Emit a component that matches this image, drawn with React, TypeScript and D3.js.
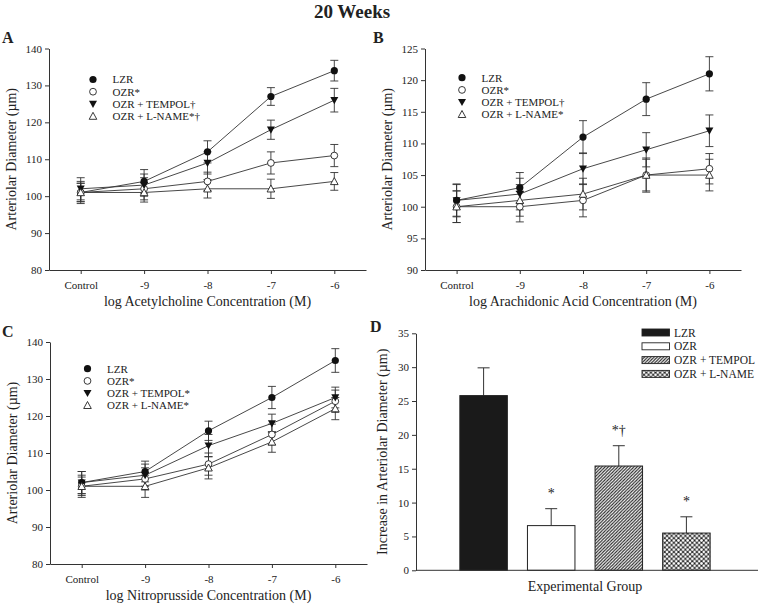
import { useEffect, useRef } from 'react'
import * as d3 from 'd3'

const categories = ['Control', '-9', '-8', '-7', '-6']

// panel A - acetylcholine
const aLabels = ['LZR', 'OZR*', 'OZR + TEMPOL†', 'OZR + L-NAME*†']
const aLzr = [101, 104, 112, 127, 134]
const aLzrErr = [3, 3.2, 3, 2.4, 2.8]
const aOzr = [101, 102, 104, 109, 111]
const aOzrErr = [2.5, 3, 2.5, 3, 3]
const aTempol = [102, 103, 109, 118, 126]
const aTempolErr = [3, 3, 3, 2.6, 3.2]
const aLname = [101, 101, 102, 102, 104]
const aLnameErr = [2.5, 2.6, 2.5, 2.6, 2.4]

// panel B - arachidonic acid
const bLabels = ['LZR', 'OZR*', 'OZR + TEMPOL†', 'OZR + L-NAME*']
const bLzr = [101, 103, 111, 117, 121]
const bLzrErr = [2.6, 2.4, 2.6, 2.6, 2.7]
const bOzr = [100, 100, 101, 105, 106]
const bOzrErr = [2.5, 2.4, 2.6, 2.7, 2.4]
const bTempol = [101, 102, 106, 109, 112]
const bTempolErr = [2.5, 2.5, 2.5, 2.7, 2.5]
const bLname = [100, 101, 102, 105, 105]
const bLnameErr = [2.5, 2.5, 2.5, 2.5, 2.5]

// panel C - nitroprusside
const cLabels = ['LZR', 'OZR*', 'OZR + TEMPOL*', 'OZR + L-NAME*']
const cLzr = [102, 105, 116, 125, 135]
const cLzrErr = [3, 2.8, 2.6, 3, 3.2]
const cOzr = [101, 103, 107, 115, 124]
const cOzrErr = [3, 3, 3, 2.8, 3]
const cTempol = [102, 104, 112, 118, 125]
const cTempolErr = [3, 3, 3, 2.5, 2.8]
const cLname = [101, 101, 106, 113, 122]
const cLnameErr = [2.5, 3, 3, 2.8, 3]

// panel D - bars
const dGroups = ['LZR', 'OZR', 'OZR + TEMPOL', 'OZR + L-NAME']
const dValues = [25.8, 6.6, 15.4, 5.5]
const dErrors = [4.1, 2.5, 3.0, 2.4]
const dMarks = ['', '*', '*†', '*']

const font = '"Liberation Serif", "Times New Roman", serif'
const ink = '#222'
const markerKinds = ['dot', 'circle', 'down', 'up']

type Panel = {
  letter: string
  left: number; right: number; top: number; bottom: number
  yDomain: [number, number]
  yTicks: number[]
  xTitle: string
  labels: string[]
  series: number[][]
  errors: number[][]
  legendX: number; legendY: number
}

const panels: Panel[] = [
  {
    letter: 'A', left: 49, right: 366, top: 48.5, bottom: 270, yDomain: [80, 140],
    yTicks: d3.range(80, 141, 10), xTitle: 'log Acetylcholine Concentration (M)',
    labels: aLabels, series: [aLzr, aOzr, aTempol, aLname],
    errors: [aLzrErr, aOzrErr, aTempolErr, aLnameErr], legendX: 93, legendY: 79.5
  },
  {
    letter: 'B', left: 425, right: 741, top: 48.5, bottom: 270, yDomain: [90, 125],
    yTicks: d3.range(90, 126, 5), xTitle: 'log Arachidonic Acid Concentration (M)',
    labels: bLabels, series: [bLzr, bOzr, bTempol, bLname],
    errors: [bLzrErr, bOzrErr, bTempolErr, bLnameErr], legendX: 462, legendY: 77.7
  },
  {
    letter: 'C', left: 50, right: 367, top: 342, bottom: 564, yDomain: [80, 140],
    yTicks: d3.range(80, 141, 10), xTitle: 'log Nitroprusside Concentration (M)',
    labels: cLabels, series: [cLzr, cOzr, cTempol, cLname],
    errors: [cLzrErr, cOzrErr, cTempolErr, cLnameErr], legendX: 87.5, legendY: 368.7
  }
]

type G = d3.Selection<SVGGElement, unknown, null, undefined>

function drawMarker(g: G, kind: string, x: number, y: number) {
  if (kind === 'dot') {
    g.append('circle').attr('cx', x).attr('cy', y).attr('r', 3.6).attr('fill', '#111')
  } else if (kind === 'circle') {
    g.append('circle').attr('cx', x).attr('cy', y).attr('r', 3.4).attr('fill', '#fff').attr('stroke', ink).attr('stroke-width', 0.9)
  } else if (kind === 'down') {
    g.append('path').attr('d', `M${x - 4},${y - 3.2}L${x + 4},${y - 3.2}L${x},${y + 4}Z`).attr('fill', '#111')
  } else {
    g.append('path').attr('d', `M${x - 3.8},${y + 3.2}L${x + 3.8},${y + 3.2}L${x},${y - 3.8}Z`)
      .attr('fill', '#fff').attr('stroke', ink).attr('stroke-width', 0.9)
  }
}

// serif text helper
function label(g: G, text: string, size: number) {
  return g.append('text').style('font-family', font).style('font-size', `${size}px`).attr('fill', ink).text(text)
}

function styleAxis(a: G) {
  a.attr('font-family', null).attr('font-size', null)
  a.selectAll('path, line').attr('stroke', '#333')
  a.selectAll('text').style('font-family', font).style('font-size', '11px').attr('fill', ink)
}

export default function App() {
  const ref = useRef<SVGSVGElement>(null)

  useEffect(() => {
    document.body.style.margin = '0'
    const svg = d3.select(ref.current)
    svg.selectAll('*').remove()
    const root = svg.append('g') as unknown as G

    const defs = svg.append('defs')
    const hatch = defs.append('pattern').attr('id', 'hatch').attr('patternUnits', 'userSpaceOnUse')
      .attr('width', 3.2).attr('height', 3.2)
    hatch.append('rect').attr('width', 3.2).attr('height', 3.2).attr('fill', '#fff')
    hatch.append('path').attr('d', 'M-0.8,0.8L0.8,-0.8M0,3.2L3.2,0M2.4,4L4,2.4')
      .attr('stroke', '#222').attr('stroke-width', 1.1)
    const cross = defs.append('pattern').attr('id', 'cross').attr('patternUnits', 'userSpaceOnUse')
      .attr('width', 4.6).attr('height', 4.6)
    cross.append('rect').attr('width', 4.6).attr('height', 4.6).attr('fill', '#222')
    ;[[0, 0], [4.6, 0], [0, 4.6], [4.6, 4.6], [2.3, 2.3]].forEach(([cx, cy]) => {
      cross.append('circle').attr('cx', cx).attr('cy', cy).attr('r', 1.35).attr('fill', '#fff')
    })

    label(root, '20 Weeks', 19).attr('x', 352).attr('y', 17.5).attr('text-anchor', 'middle')
      .style('font-weight', 'bold')

    panels.forEach(p => {
      const g = root.append('g')
      const x = d3.scaleLinear().domain([-0.5, categories.length - 0.5]).range([p.left, p.right])
      const y = d3.scaleLinear().domain(p.yDomain).range([p.bottom, p.top])

      const xAxis = g.append('g').attr('transform', `translate(0,${p.bottom})`)
        .call(d3.axisBottom(x).tickValues(d3.range(categories.length)).tickFormat((d) => categories[d as number]).tickSize(4).tickSizeOuter(0))
      const yAxis = g.append('g').attr('transform', `translate(${p.left},0)`)
        .call(d3.axisLeft(y).tickValues(p.yTicks).tickSize(4).tickSizeOuter(0))
      styleAxis(xAxis)
      styleAxis(yAxis)
      xAxis.selectAll('text').attr('dy', '1.05em')

      label(g, p.letter, 16).attr('x', p.letter === 'B' ? 373 : 2).attr('y', p.top - 5.5)
        .style('font-weight', 'bold')

      label(g, 'Arteriolar Diameter (µm)', 14)
        .attr('transform', `translate(${p.left - 33},${(p.top + p.bottom) / 2}) rotate(-90)`)
        .attr('text-anchor', 'middle')
      label(g, p.xTitle, 14).attr('x', (p.left + p.right) / 2).attr('y', p.bottom + 36)
        .attr('text-anchor', 'middle')

      const line = d3.line<number>().x((_, i) => x(i)).y(d => y(d))
      p.series.forEach(s => {
        g.append('path').attr('d', line(s)).attr('fill', 'none').attr('stroke', '#333').attr('stroke-width', 0.9)
      })
      p.series.forEach((s, si) => {
        s.forEach((v, i) => {
          const e = p.errors[si][i]
          const cx = x(i)
          g.append('path')
            .attr('d', `M${cx},${y(v - e)}V${y(v + e)}M${cx - 4},${y(v - e)}H${cx + 4}M${cx - 4},${y(v + e)}H${cx + 4}`)
            .attr('stroke', '#333').attr('stroke-width', 0.9).attr('fill', 'none')
        })
      })
      p.series.forEach((s, si) => {
        s.forEach((v, i) => drawMarker(g, markerKinds[si], x(i), y(v)))
      })

      p.labels.forEach((lab, i) => {
        const ly = p.legendY + i * 12.2
        drawMarker(g, markerKinds[i], p.legendX, ly)
        label(g, lab, 11).attr('x', p.legendX + 19.5).attr('y', ly + 3.8)
      })
    })

    // panel D
    const dLeft = 416, dRight = 758, dTop = 333.3, dBottom = 570.3
    const gd = root.append('g')
    const xd = d3.scalePoint<string>().domain(dGroups).range([416, 754]).padding(1)
    const yd = d3.scaleLinear().domain([0, 35]).range([dBottom, dTop])
    const fills = ['#1a1a1a', '#fff', 'url(#hatch)', 'url(#cross)']
    const barW = 47.5

    dGroups.forEach((grp, i) => {
      const cx = xd(grp) as number
      const top = yd(dValues[i] + dErrors[i])
      gd.append('path').attr('d', `M${cx},${yd(dValues[i])}V${top}M${cx - 6},${top}H${cx + 6}`)
        .attr('stroke', '#333').attr('stroke-width', 1)
      gd.append('rect').attr('x', cx - barW / 2).attr('y', yd(dValues[i]))
        .attr('width', barW).attr('height', dBottom - yd(dValues[i]))
        .attr('fill', fills[i]).attr('stroke', '#222').attr('stroke-width', 1)
      if (dMarks[i]) {
        label(gd, dMarks[i], 14).attr('x', cx).attr('y', top - 11).attr('text-anchor', 'middle')
      }
    })

    const yAxisD = gd.append('g').attr('transform', `translate(${dLeft},0)`)
      .call(d3.axisLeft(yd).tickValues(d3.range(0, 36, 5)).tickSize(4).tickSizeOuter(0))
    styleAxis(yAxisD)
    gd.append('line').attr('x1', dLeft).attr('x2', dRight).attr('y1', dBottom).attr('y2', dBottom).attr('stroke', '#333')

    label(gd, 'D', 16).attr('x', 370).attr('y', 332).style('font-weight', 'bold')
    label(gd, 'Increase in Arteriolar Diameter (µm)', 14)
      .attr('transform', `translate(${dLeft - 29},${(dTop + dBottom) / 2}) rotate(-90)`)
      .attr('text-anchor', 'middle')
    label(gd, 'Experimental Group', 14).attr('x', 585).attr('y', 591).attr('text-anchor', 'middle')

    dGroups.forEach((grp, i) => {
      const ly = 332.5 + i * 13.8
      gd.append('rect').attr('x', 642).attr('y', ly - 3.5).attr('width', 27.5).attr('height', 7)
        .attr('fill', fills[i]).attr('stroke', '#222').attr('stroke-width', 0.9)
      label(gd, grp, 11.5).attr('x', 674).attr('y', ly + 4)
    })
  }, [])

  return <svg ref={ref} width={758} height={608} style={{ display: 'block', background: '#fff' }} />
}
